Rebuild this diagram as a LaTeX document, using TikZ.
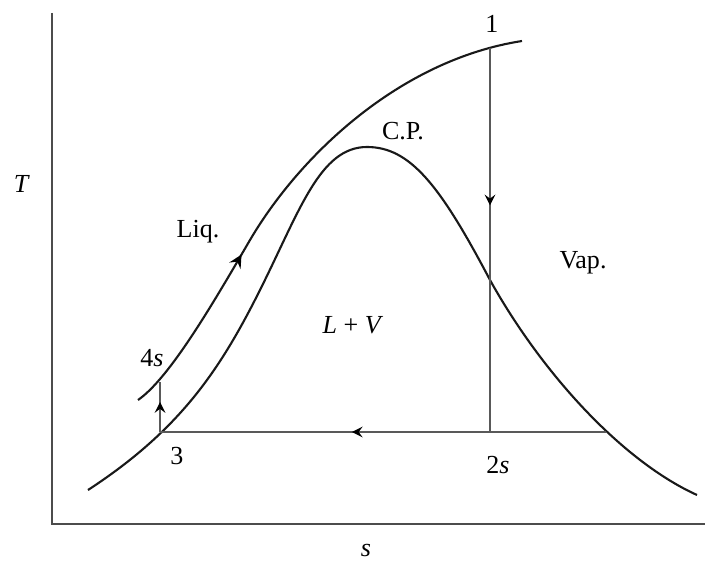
\documentclass[tikz,border=0pt]{standalone}
\usepackage{fontspec}
\setmainfont{Liberation Serif}
\usetikzlibrary{decorations.markings}
\begin{document}
\begin{tikzpicture}[
  x=0.025cm,y=-0.025cm,
  >=stealth,
  curve/.style={line width=1.5pt,black!90},
  process/.style={line width=1.1pt,black!65},
  axis/.style={line width=1.2pt,black!70},
  label/.style={font=\fontsize{18.5}{22}\selectfont,inner sep=1pt},
  midarrow/.style={postaction={decorate},decoration={markings,
    mark=at position #1 with {\arrow[black,scale=1.6]{>}}}}
]
\useasboundingbox (0,0) rectangle (705,564);

% axes
\coordinate (top) at (52,13);
\coordinate (origin) at (52,524);
\coordinate (right) at (705,524);
\draw[axis] (top) -- (origin) -- (right);
\node[label] (tlabel) at (22,184) {\textit{T}};
\node[label] (slabel) at (366,550) {\textit{s}};

% state points
\coordinate (p1) at (490,48);
\coordinate (p2s) at (490,432);
\coordinate (p3) at (160,432);
\coordinate (p4s) at (160,382);
\coordinate (pg) at (606,432);

% saturation dome
\draw[curve] (88,490) .. controls (180,430) and (220,370) .. (260,290)
  .. controls (300,210) and (320,147) .. (367,147)
  .. controls (410,147) and (440,185) .. (490,280)
  .. controls (540,370) and (620,460) .. (697,495);

% liquid line
\draw[curve,midarrow=0.33] (138,400) .. controls (170,378) and (215,300) .. (250,240)
  .. controls (300,155) and (400,60) .. (522,41);

% process lines
\draw[process,midarrow=0.41] (p1) -- (p2s);
\draw[process,midarrow=0.57] (pg) -- (p3);
\draw[process,midarrow=0.6] (p3) -- (p4s);

% labels
\node[label] (l1) at (492,24) {1};
\node[label] (lcp) at (403,131) {C.P.};
\node[label] (lliq) at (198,232) {Liq.};
\node[label] (lvap) at (583,263) {Vap.};
\node[label] (llv) at (353,325) {\textit{L} + \textit{V}};
\node[label] (l4s) at (152,358) {4\textit{s}};
\node[label] (l3) at (177,456) {3};
\node[label] (l2s) at (498,465) {2\textit{s}};
\end{tikzpicture}
\end{document}
